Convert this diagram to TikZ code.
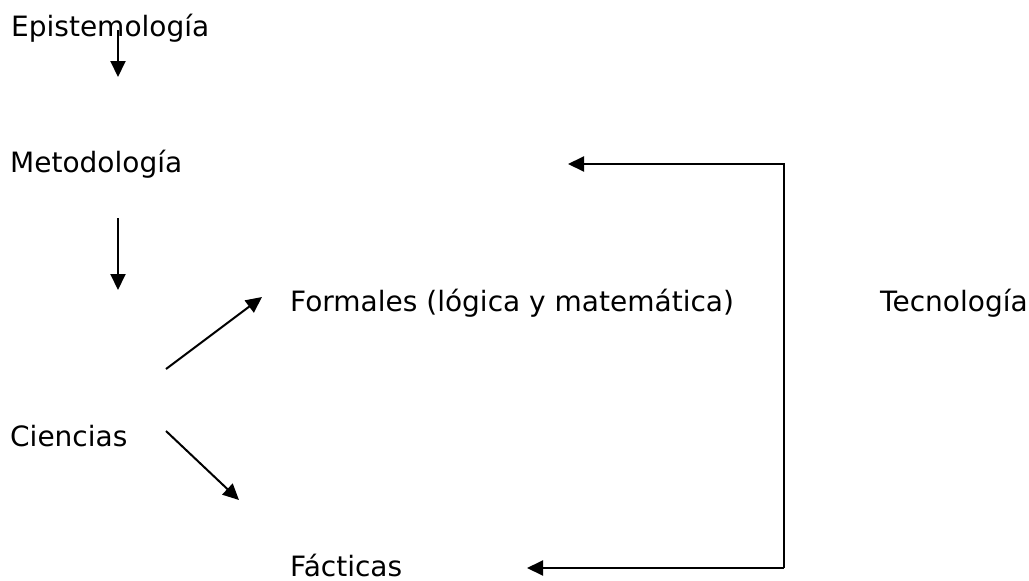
\documentclass[tikz,border=0pt]{standalone}
\usepackage{fontspec}
\setmainfont{DejaVu Sans}
\usetikzlibrary{arrows.meta,positioning,calc}

\begin{document}
\begin{tikzpicture}[x=1pt,y=-1pt,>={Triangle[length=16pt,width=15pt]},
  lbl/.style={anchor=base west,inner sep=0pt,font=\fontsize{28}{32}\selectfont},
  link/.style={->,line width=2pt}]
\useasboundingbox (0,0) rectangle (1029,581);

% ---------- the chain on the left ----------
\node[lbl] (epist) at (11,36) {Epistemología};
\node[lbl] (metod) at (10,172) {Metodología};
\node[lbl] (cienc) at (10,446) {Ciencias};
\node[lbl] (forma) at (290,311) {Formales (lógica y matemática)};
\node[lbl] (fact)  at (290,576) {Fácticas};
\node[lbl] (tecno) at (880,311) {Tecnología};

\coordinate (e1) at (118,30);  \coordinate (e2) at (118,77);
\coordinate (m1) at (118,218); \coordinate (m2) at (118,290);
\coordinate (c1) at (166,369); \coordinate (c2) at (262,297);
\coordinate (c3) at (166,431); \coordinate (c4) at (239,500);
\draw[link] (e1) -- (e2);
\draw[link] (m1) -- (m2);
\draw[link] (c1) -- (c2);
\draw[link] (c3) -- (c4);

% ---------- the loop on the right ----------
\coordinate (t0) at (784,568);
\coordinate (t1) at (568,164);
\coordinate (t2) at (527,568);
\draw[link] (t0) |- (t1);
\draw[link] (t0) -- (t2);
\end{tikzpicture}
\end{document}
